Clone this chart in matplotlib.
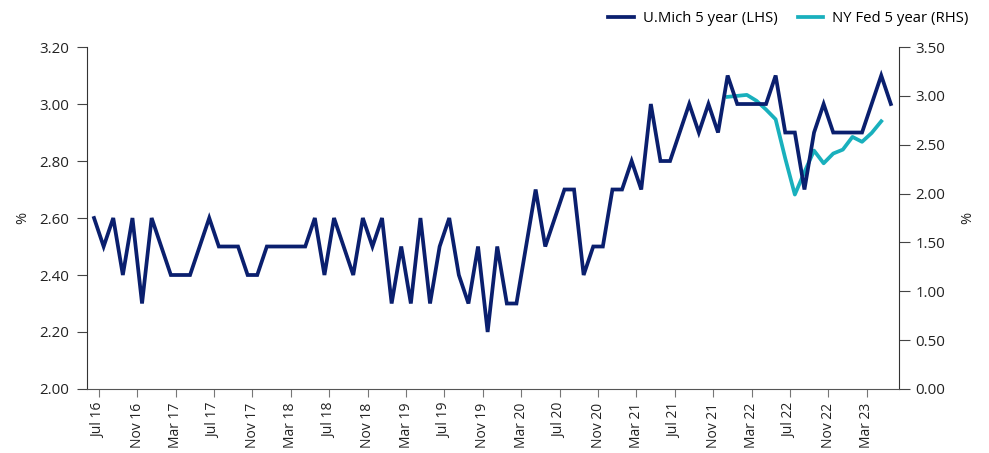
import matplotlib
matplotlib.use("Agg")
import matplotlib.pyplot as plt
import numpy as np

plt.rcParams['font.family'] = ['Open Sans', 'DejaVu Sans']

# Monthly data, Jul 2016 .. Jun 2023
umich = [
    2.6, 2.5, 2.6, 2.4, 2.6, 2.3,            # Jul16-Dec16
    2.6, 2.5, 2.4, 2.4, 2.4, 2.5, 2.6, 2.5, 2.5, 2.5, 2.4, 2.4,  # 2017
    2.5, 2.5, 2.5, 2.5, 2.5, 2.6, 2.4, 2.6, 2.5, 2.4, 2.6, 2.5,  # 2018
    2.6, 2.3, 2.5, 2.3, 2.6, 2.3, 2.5, 2.6, 2.4, 2.3, 2.5, 2.2,  # 2019
    2.5, 2.3, 2.3, 2.5, 2.7, 2.5, 2.6, 2.7, 2.7, 2.4, 2.5, 2.5,  # 2020
    2.7, 2.7, 2.8, 2.7, 3.0, 2.8, 2.8, 2.9, 3.0, 2.9, 3.0, 2.9,  # 2021
    3.1, 3.0, 3.0, 3.0, 3.0, 3.1, 2.9, 2.9, 2.7, 2.9, 3.0, 2.9,  # 2022
    2.9, 2.9, 2.9, 3.0, 3.1, 3.0,            # Jan23-Jun23
]
# NY Fed 5 year, Jan 2022 .. May 2023
nyfed_start = 66
nyfed = [2.99, 3.00, 3.01, 2.95, 2.86, 2.76, 2.36, 1.99, 2.22, 2.44,
         2.31, 2.41, 2.45, 2.58, 2.53, 2.62, 2.74]

tick_labels = ["Jul 16", "Nov 16", "Mar 17", "Jul 17", "Nov 17", "Mar 18",
               "Jul 18", "Nov 18", "Mar 19", "Jul 19", "Nov 19", "Mar 20",
               "Jul 20", "Nov 20", "Mar 21", "Jul 21", "Nov 21", "Mar 22",
               "Jul 22", "Nov 22", "Mar 23"]
left_ticks = [2.00, 2.20, 2.40, 2.60, 2.80, 3.00, 3.20]
right_ticks = [0.0, 0.5, 1.0, 1.5, 2.0, 2.5, 3.0, 3.5]

navy = '#0a1f6e'
teal = '#19b0bd'
txt = '#222222'

fig = plt.figure(figsize=(9.89, 4.53), dpi=100)
ax = fig.add_axes([0.088, 0.1413, 0.821, 0.7549])
ax2 = ax.twinx()

x_um = np.arange(len(umich))
x_ny = np.arange(len(nyfed)) + nyfed_start

l1, = ax.plot(x_um, umich, color=navy, lw=2.7, solid_joinstyle='miter', label='U.Mich 5 year (LHS)')
l2, = ax2.plot(x_ny, nyfed, color=teal, lw=2.7, label='NY Fed 5 year (RHS)')
ax.set_zorder(ax2.get_zorder() + 1)
ax.patch.set_visible(False)

ax.set_xlim(-0.73, 83.85)
ax.set_ylim(2.0, 3.2)
ax2.set_ylim(0, 3.5)

ax.set_yticks(left_ticks)
ax.set_yticklabels([f"{v:.2f}" for v in left_ticks], color=txt, fontsize=10.8)
ax2.set_yticks(right_ticks)
ax2.set_yticklabels([f"{v:.2f}" for v in right_ticks], color=txt, fontsize=10.8)

xt = np.arange(len(tick_labels)) * 4 + 0.5
ax.set_xticks(xt)
ax.set_xticklabels(tick_labels, rotation=90, color=txt, fontsize=10)

for a in (ax, ax2):
    a.spines['top'].set_visible(False)
ax.spines['right'].set_visible(False)
ax.spines['left'].set_color('#333333')
ax2.spines['right'].set_color('#333333')
ax2.spines['left'].set_visible(False)
ax.spines['bottom'].set_color('#555555')
ax2.spines['bottom'].set_visible(False)

ax.tick_params(axis='y', length=7, color='#444444', pad=6)
ax2.tick_params(axis='y', length=8, color='#444444', pad=4)
ax.tick_params(axis='x', length=6, color='#777777', pad=4)

ax.set_ylabel('%', color=txt, fontsize=10.5)
ax2.set_ylabel('%', color=txt, fontsize=10.5)
ax.yaxis.set_label_coords(-0.070, 0.5)
ax2.yaxis.set_label_coords(1.075, 0.5)

fig.legend(handles=[l1, l2], loc='upper right', bbox_to_anchor=(0.993, 1.005),
           ncol=2, frameon=False, fontsize=10.7, handlelength=1.7,
           columnspacing=1.4, handletextpad=0.6)

fig.savefig('out.png', dpi=100)
